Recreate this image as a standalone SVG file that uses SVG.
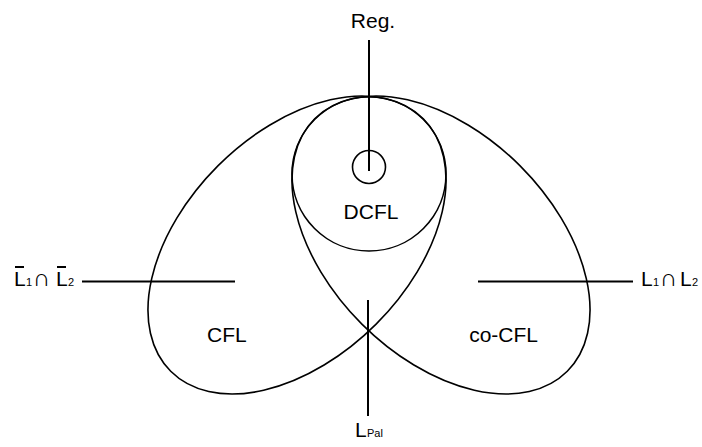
<svg xmlns="http://www.w3.org/2000/svg" width="702" height="447" viewBox="0 0 702 447">
  <style>
    .set { fill: none; stroke: #000; stroke-width: 1.6; }
    .lead { stroke: #000; stroke-width: 2; fill: none; }
    .lbl { font-family: "Liberation Sans", Arial, sans-serif; font-size: 21px; fill: #000; }
    .sub { font-size: 11px; }
    .cap { font-size: 24px; }
  </style>
  <rect width="702" height="447" fill="#fff"/>

  <!-- language classes -->
  <g id="cfl">
    <ellipse class="set" cx="297" cy="245" rx="178.6" ry="111.9" transform="rotate(-45 297 245)"/>
    <text class="lbl" x="207" y="342">CFL</text>
  </g>
  <g id="co-cfl">
    <ellipse class="set" cx="441" cy="245" rx="178.6" ry="111.9" transform="rotate(45 441 245)"/>
    <text class="lbl" x="538" y="342" text-anchor="end">co-CFL</text>
  </g>
  <g id="dcfl">
    <circle class="set" cx="369" cy="174" r="77"/>
    <text class="lbl" x="371" y="219" text-anchor="middle">DCFL</text>
  </g>
  <g id="reg">
    <circle class="set" cx="369" cy="167" r="16.5"/>
    <text class="lbl" x="373" y="28" text-anchor="middle">Reg.</text>
  </g>

  <!-- pointer lines -->
  <g id="connectors">
    <line class="lead" x1="369" y1="40" x2="369" y2="171"/>
    <line class="lead" x1="82" y1="281.5" x2="235" y2="281.5"/>
    <line class="lead" x1="478" y1="281.5" x2="633" y2="281.5"/>
    <line class="lead" x1="368" y1="300" x2="368" y2="416"/>
  </g>

  <!-- example languages -->
  <g id="complement-intersection">
    <text class="lbl" y="286"><tspan x="14">L</tspan><tspan class="sub" x="26">1</tspan><tspan class="cap" x="33">∩</tspan><tspan x="56">L</tspan><tspan class="sub" x="68">2</tspan></text>
    <line class="lead" x1="15" y1="267" x2="24" y2="267"/>
    <line class="lead" x1="57" y1="267" x2="66" y2="267"/>
  </g>
  <g id="intersection">
    <text class="lbl" y="286"><tspan x="641">L</tspan><tspan class="sub" x="653">1</tspan><tspan class="cap" x="660">∩</tspan><tspan x="680">L</tspan><tspan class="sub" x="692">2</tspan></text>
  </g>
  <g id="palindromes">
    <text class="lbl" y="437"><tspan x="355">L</tspan><tspan class="sub" x="367">Pal</tspan></text>
  </g>
</svg>
